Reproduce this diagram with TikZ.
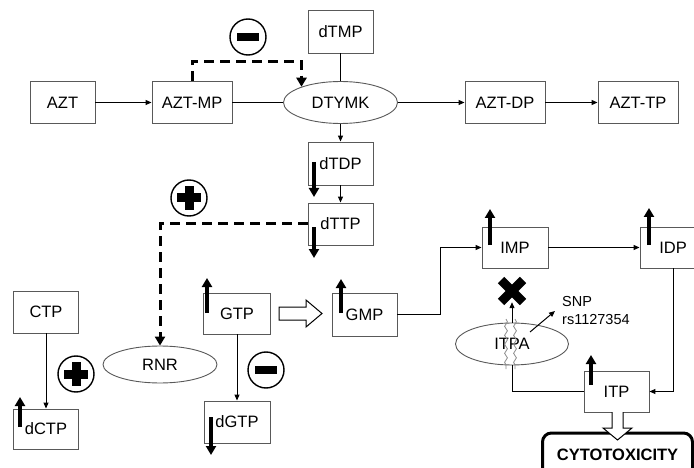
\documentclass[tikz,border=0pt]{standalone}
\usepackage{fontspec}
\setmainfont{Liberation Sans}
\usetikzlibrary{shapes.geometric,arrows.meta,decorations.pathmorphing}
\newcommand\mytxt{\fontsize{16.5}{18}\selectfont}
\newcommand\mysmall{\fontsize{14.5}{18}\selectfont}
\tikzset{
 bx/.style={draw=black!65, line width=0.9pt, minimum width=65pt, minimum height=42pt, inner sep=0pt, font=\mytxt, fill=white},
 ell/.style={ellipse, draw=black!65, line width=0.9pt, minimum width=114pt, minimum height=42pt, inner sep=0pt, font=\mytxt, fill=white},
 conn/.style={line width=1pt, -{Triangle[length=6pt,width=5pt]}},
 plainln/.style={line width=1pt},
 lvlarrow/.style={line width=3.2pt, line cap=butt, -{Triangle[length=9pt,width=10pt]}},
 dsh/.style={line width=3pt, dash pattern=on 10pt off 6pt, -{Triangle[length=9pt,width=10pt]}},
 sign/.style={circle, draw, line width=1.4pt, minimum size=36pt, inner sep=0pt},
}
\begin{document}
\begin{tikzpicture}[x=1pt,y=-1pt]
\useasboundingbox (0,0) rectangle (694,468);
% nodes
\node[bx] (AZT) at (62.5,102.5) {AZT};
\node[bx, minimum width=80pt] (AZTMP) at (192,102.5) {AZT-MP};
\node[ell] (DTYMK) at (340.5,102.5) {DTYMK};
\node[bx, minimum height=43pt] (dTMP) at (340.5,31.5) {dTMP};
\node[bx, minimum width=80pt] (AZTDP) at (505,102.5) {AZT-DP};
\node[bx, minimum width=80pt] (AZTTP) at (638,102.5) {AZT-TP};
\node[bx, minimum height=43pt] (dTDP) at (340.5,163.5) {dTDP};
\node[bx] (dTTP) at (340.5,224) {dTTP};
\node[ell, minimum height=37pt] (RNR) at (160,364.5) {RNR};
\node[bx] (CTP) at (46,312) {CTP};
\node[bx, minimum height=40pt] (dCTP) at (46,429) {dCTP};
\node[bx, minimum width=67pt, minimum height=41pt] (GTP) at (237,313.5) {GTP};
\node[bx, minimum width=66pt] (dGTP) at (237,422) {dGTP};
\node[bx, minimum height=43pt] (GMP) at (364.5,314.5) {GMP};
\node[bx, minimum width=66pt, minimum height=41pt] (IMP) at (515,247.5) {IMP};
\node[bx, minimum width=66pt, minimum height=41pt] (IDP) at (673,247.5) {IDP};
\node[bx, minimum height=41pt] (ITP) at (616.5,391.5) {ITP};
\node[ell, minimum width=113pt] (ITPA) at (512,344) {ITPA};
\node[draw, line width=3pt, rounded corners=9pt, minimum width=150pt, minimum height=44pt, inner sep=0pt, font=\bfseries\mytxt] (CYTO) at (617.5,455) {CYTOTOXICITY};
\node[anchor=west, align=left, inner sep=0pt, font=\mysmall] (SNP) at (562,311) {SNP\\rs1127354};

% connectors
\draw[conn] (AZT) -- (AZTMP);
\draw[plainln] (AZTMP) -- (DTYMK);
\draw[plainln] (dTMP) -- (DTYMK);
\draw[conn] (DTYMK) -- (AZTDP);
\draw[conn] (AZTDP) -- (AZTTP);
\draw[conn] (DTYMK) -- (dTDP);
\draw[conn] (dTDP) -- (dTTP);
\draw[conn] (CTP) -- (dCTP);
\draw[conn] (GTP) -- (dGTP);
\draw[conn] (GMP.east) -- ++(43,0) |- (IMP.west);
\draw[conn] (IMP) -- (IDP);
\draw[conn] (IDP.south) |- (ITP.east);
\draw[plainln] (ITP.west) -| (ITPA.south);

% dashed regulation
\draw[dsh] (AZTMP.north) -- ++(0,-20) -| (DTYMK.158);
\draw[dsh] (dTTP.west) -| (RNR.north);

% signs
\node[sign] (m1) at (248,37) {};
\fill ([shift={(-11,-4)}]m1.center) rectangle ([shift={(11,4)}]m1.center);
\node[sign] (m2) at (266,370) {};
\fill ([shift={(-11,-4)}]m2.center) rectangle ([shift={(11,4)}]m2.center);
\node[sign] (p1) at (189,198) {};
\fill ([shift={(-12,-4.5)}]p1.center) rectangle ([shift={(12,4.5)}]p1.center);
\fill ([shift={(-4.5,-12)}]p1.center) rectangle ([shift={(4.5,12)}]p1.center);
\node[sign] (p2) at (76,374) {};
\fill ([shift={(-12,-4.5)}]p2.center) rectangle ([shift={(12,4.5)}]p2.center);
\fill ([shift={(-4.5,-12)}]p2.center) rectangle ([shift={(4.5,12)}]p2.center);

% thick level arrows
\draw[lvlarrow] (314,162) -- (314,197);
\draw[lvlarrow] (314,227) -- (314,258);
\draw[lvlarrow] (20,427) -- (20,397);
\draw[lvlarrow] (207,313) -- (207,278);
\draw[lvlarrow] (211,417) -- (211,455);
\draw[lvlarrow] (341,313) -- (341,279);
\draw[lvlarrow] (490,245) -- (490,209);
\draw[lvlarrow] (649,245) -- (649,208);
\draw[lvlarrow] (591,385) -- (591,355);

% hollow arrows
\draw[plainln, fill=white] (279,307) -- (306,307) -- (306,300) -- (322,313.5) -- (306,327) -- (306,320) -- (279,320) -- cycle;
\draw[plainln, fill=white] (612,412) -- (612,428) -- (603,428) -- (617.5,440) -- (632,428) -- (623,428) -- (623,412);

% ITPA block
\node[minimum size=22pt, inner sep=0pt] (xc) at (512,291) {};
\draw[line width=9pt] ([shift={(-11,-11)}]xc.center) -- ([shift={(11,11)}]xc.center);
\draw[line width=9pt] ([shift={(-11,11)}]xc.center) -- ([shift={(11,-11)}]xc.center);
\draw[conn] (ITPA.north) -- (xc.south);
\draw[black!45, line width=0.8pt, decorate, decoration={snake, amplitude=1.4pt, segment length=9pt}] (506,319) -- (506,369);
\draw[black!45, line width=0.8pt, decorate, decoration={snake, amplitude=1.4pt, segment length=9pt}] (515,319) -- (515,369);
\draw[conn] ([shift={(18,-12)}]ITPA.center) -- ([xshift=-7pt]SNP.west);
\end{tikzpicture}
\end{document}
